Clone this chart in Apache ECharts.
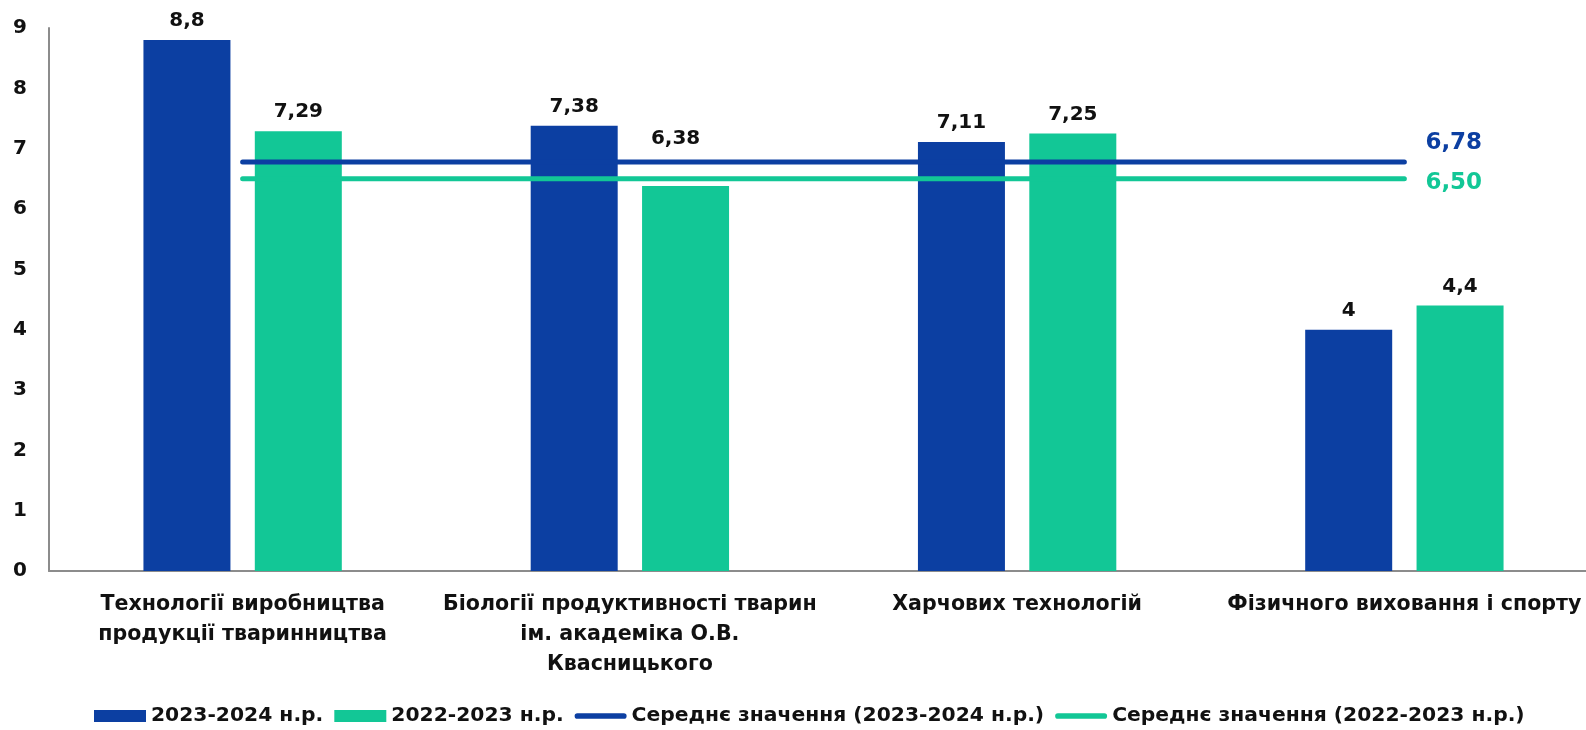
<!DOCTYPE html>
<html>
<head>
<meta charset="utf-8">
<script src="https://cdn.jsdelivr.net/npm/echarts@6/dist/echarts.min.js"></script>
<style>
  html, body { margin: 0; padding: 0; background: #fff; overflow: hidden; }
  /* полотно трохи ширше за вікно: область побудови виходить за правий край, як в оригіналі */
  #main { width: 1598px; height: 730px; }
</style>
</head>
<body>
<div id="main"></div>
<script>
var categories = [
  'Технології виробництва\nпродукції тваринництва',
  'Біології продуктивності тварин\nім. академіка О.В.\nКвасницького',
  'Харчових технологій',
  'Фізичного виховання і спорту'
]
var seriesNames = ['2023-2024 н.р.', '2022-2023 н.р.', 'Середнє значення (2023-2024 н.р.)', 'Середнє значення (2022-2023 н.р.)']
var values2324 = [8.8, 7.38, 7.11, 4]
var values2223 = [7.29, 6.38, 7.25, 4.4]
var mean2324 = 6.78
var mean2223 = 6.50

var blue = '#0c3fa2', green = '#12c796'
var font = 'DejaVu Sans'
var fs = 20

function comma(v, digits) {
  var s = digits == null ? String(v) : v.toFixed(digits)
  return s.replace('.', ',')
}

// лінії середнього значення — одна точка на кожну категорію
var meanLine24 = categories.map(function() { return mean2324 })
var meanLine23 = categories.map(function() { return mean2223 })

// підпис 6,38 піднято над лініями середнього
var greenBars = values2223.map(function(v, i) {
  if (i === 1) return { value: v, label: { offset: [-10, -28] } }
  return v
})

var lineIcon = 'path://M3,0 L52,0 A3,3 0 0 1 52,6 L3,6 A3,3 0 0 1 3,0 Z'

var myChart = echarts.init(document.getElementById('main'))

var barLabel = {
  show: true,
  position: 'top',
  distance: 9,
  color: '#111',
  fontFamily: font,
  fontWeight: 'bold',
  fontSize: fs,
  formatter: function(p) { return comma(p.value) }
}

function endLabel(color, offset) {
  return {
    show: true,
    distance: 21,
    offset: offset,
    color: color,
    fontFamily: font,
    fontWeight: 'bold',
    fontSize: 23,
    formatter: function(p) { return comma(p.value, 2) }
  }
}

var option = {
  animation: false,
  textStyle: { fontFamily: font },
  grid: { left: 49, right: 0, top: 28, bottom: 159 },
  legend: {
    bottom: -1,
    left: 89,
    itemWidth: 52,
    itemHeight: 12,
    itemGap: 11,
    textStyle: { fontFamily: font, fontWeight: 'bold', fontSize: 20.3, color: '#111' },
    data: [
      { name: seriesNames[0], icon: 'rect' },
      { name: seriesNames[1], icon: 'rect' },
      { name: seriesNames[2], icon: lineIcon },
      { name: seriesNames[3], icon: lineIcon }
    ]
  },
  xAxis: {
    type: 'category',
    data: categories,
    axisLine: { lineStyle: { color: '#8c8c8c', width: 2 } },
    axisTick: { show: false },
    axisLabel: {
      margin: 19,
      color: '#111',
      fontFamily: font,
      fontWeight: 'bold',
      fontSize: 20.6,
      lineHeight: 30,
      interval: 0
    }
  },
  yAxis: {
    type: 'value',
    min: 0,
    max: 9,
    interval: 1,
    axisLine: { show: true, lineStyle: { color: '#8c8c8c', width: 2 } },
    axisTick: { show: false },
    splitLine: { show: false },
    axisLabel: {
      margin: 22,
      color: '#111',
      fontFamily: font,
      fontWeight: 'bold',
      fontSize: fs
    }
  },
  series: [
    {
      name: seriesNames[0],
      type: 'bar',
      data: values2324,
      barWidth: 87,
      barGap: '28%',
      itemStyle: { color: blue },
      label: barLabel
    },
    {
      name: seriesNames[1],
      type: 'bar',
      data: greenBars,
      barWidth: 87,
      itemStyle: { color: green },
      label: barLabel
    },
    {
      name: seriesNames[2],
      type: 'line',
      data: meanLine24,
      symbol: 'none',
      z: 5,
      lineStyle: { color: blue, width: 5, cap: 'round' },
      itemStyle: { color: blue },
      endLabel: endLabel(blue, [0, -19])
    },
    {
      name: seriesNames[3],
      type: 'line',
      data: meanLine23,
      symbol: 'none',
      z: 5,
      lineStyle: { color: green, width: 5, cap: 'round' },
      itemStyle: { color: green },
      endLabel: endLabel(green, [0, 4])
    }
  ]
}

myChart.setOption(option)
</script>
</body>
</html>
